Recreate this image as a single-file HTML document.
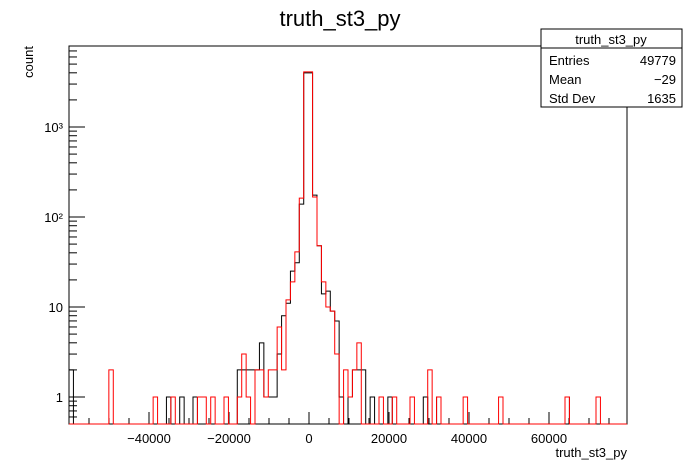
<!DOCTYPE html>
<html><head><meta charset="utf-8"><style>
body{margin:0;background:#fff;}
svg{display:block;font-family:"Liberation Sans",sans-serif;}
</style></head><body>
<svg id="chart" width="696" height="472" viewBox="0 0 696 472" xmlns="http://www.w3.org/2000/svg">
<rect x="0" y="0" width="696" height="472" fill="#fff"/>
<text x="340" y="26" font-size="22" text-anchor="middle">truth_st3_py</text>
<rect x="69" y="46" width="558" height="378" fill="none" stroke="#000" stroke-width="1"/>
<g id="axes"></g>
<g id="series"></g>
<text transform="translate(33,46) rotate(-90)" font-size="13" text-anchor="end">count</text>
<text x="627" y="457" font-size="13" text-anchor="end">truth_st3_py</text>
<g>
<rect x="541" y="29" width="141" height="78" fill="#fff" stroke="#000"/>
<line x1="541" y1="48" x2="682" y2="48" stroke="#000"/>
<text x="611" y="44" font-size="13" text-anchor="middle">truth_st3_py</text>
<text x="549" y="65" font-size="13">Entries</text><text x="676" y="65" font-size="13" text-anchor="end">49779</text>
<text x="549" y="84" font-size="13">Mean</text><text x="676" y="84" font-size="13" text-anchor="end">−29</text>
<text x="549" y="103" font-size="13">Std Dev</text><text x="676" y="103" font-size="13" text-anchor="end">1635</text>
</g>
</svg>
<script>
const xMin = -60000, xMax = 79500, nBins = 126;
const xTickValues = [-40000, -20000, 0, 20000, 40000, 60000];
const xTickLabels = ["\u221240000", "\u221220000", "0", "20000", "40000", "60000"];
const yTickValues = [1, 10, 100, 1000];
const yTickLabels = ["1", "10", "10²", "10³"];
const blackBins = [0,22,25,28,38,39,40,41,42,43,44,45,46,47,48,49,50,51,52,53,54,55,56,57,58,59,60,61,63,64,65,66,68,72,80,83,112];
const blackCounts = [2,1,1,1,2,2,2,2,2,4,1,1,1,3,8,11,25,31,139,4000,4000,175,48,14,15,9,7,1,1,2,2,2,1,1,1,1,1];
const redBins = [9,19,23,29,30,32,35,38,39,40,42,43,44,45,46,47,48,49,50,51,52,53,54,55,56,57,58,59,60,62,63,64,65,70,73,77,81,83,89,97,112,119];
const redCounts = [2,1,1,1,1,1,1,1,3,1,2,2,1,2,2,6,2,12,19,41,162,4100,4100,167,48,19,10,9,3,2,1,2,4,1,1,1,2,1,1,1,1,1];

const L=69,R=627,T=46,B=424;
const binW=(xMax-xMin)/nBins;
function X(v){return L+(v-xMin)/(xMax-xMin)*(R-L);}
function Y(c){ if(c<=0) return B; const y=397-90*Math.log10(c); return Math.max(T,Math.min(B,y)); }
const NS="http://www.w3.org/2000/svg";
const axes=document.getElementById('axes'), series=document.getElementById('series');
function mk(tag,attrs,parent){const e=document.createElementNS(NS,tag);for(const k in attrs)e.setAttribute(k,attrs[k]);parent.appendChild(e);return e;}

// x ticks
for(let v=-55000; v<=xMax; v+=5000){
  const major=(v%20000===0);
  const t=mk('line',{x1:X(v),x2:X(v),y1:B,y2:B-(major?12:6),stroke:'#000'},axes);
  
  
}
xTickValues.forEach((v,i)=>{
  const t=mk('text',{x:X(v),y:B+19,'font-size':13,'text-anchor':'middle'},axes);
  t.textContent=xTickLabels[i];
  
  
});
// y ticks
for(let d=0.1; d<=1000; d*=10){
  for(let m=1;m<=9;m++){
    const c=d*m; const y=397-90*Math.log10(c);
    if(y<T||y>B) continue;
    const major=(m===1);
    const t=mk('line',{x1:L,x2:L+(major?16:8),y1:y,y2:y,stroke:'#000'},axes);
    
    
  }
}
yTickValues.forEach((v,i)=>{
  const t=mk('text',{x:63,y:Y(v)+5,'font-size':13,'text-anchor':'end'},axes);
  t.textContent=yTickLabels[i];
  
  
});

function stepPath(bins,counts){
  const arr=new Array(nBins).fill(0);
  bins.forEach((b,i)=>arr[b]=counts[i]);
  let d='M'+X(xMin)+','+B;
  for(let k=0;k<nBins;k++){
    const x0=X(xMin+k*binW), x1=X(xMin+(k+1)*binW), y=Y(arr[k]);
    d+=' L'+x0+','+y+' L'+x1+','+y;
  }
  d+=' L'+X(xMax)+','+B;
  return d;
}
const pb=mk('path',{d:stepPath(blackBins,blackCounts),fill:'none',stroke:'#000','stroke-width':1},series);


const pr=mk('path',{d:stepPath(redBins,redCounts),fill:'none',stroke:'#f00','stroke-width':1},series);


</script>
</body></html>
